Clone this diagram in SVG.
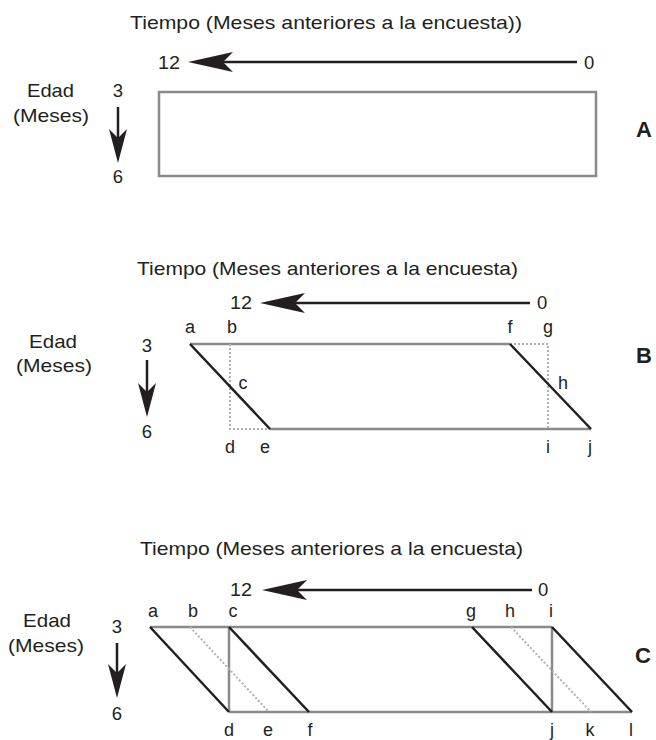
<svg xmlns="http://www.w3.org/2000/svg" width="656" height="740" viewBox="0 0 656 740">
  <style>
    text { font-family: "Liberation Sans", Arial, sans-serif; fill: #231f20; }
    .title { font-size: 19px; }
    .num { font-size: 18.5px; }
    .lbl { font-size: 18px; text-anchor: middle; }
    .axis { font-size: 18.5px; }
    .panel { font-size: 22px; font-weight: bold; }
    .arrow { stroke: #231f20; stroke-width: 2.5; fill: none; }
    .head { fill: #231f20; stroke: none; }
    .edge { stroke: #8a8a8a; stroke-width: 2.5; fill: none; }
    .cohort { stroke: #231f20; stroke-width: 2.5; fill: none; }
    .dot { stroke: #b0b0b0; stroke-width: 2; stroke-dasharray: 2 2; fill: none; }
  </style>
  <defs>
    <!-- arrowhead pointing left, tip at origin -->
    <path id="headL" class="head" d="M0,0 L45,-10 L35,0 L45,10 Z"/>
    <!-- arrowhead pointing down, tip at origin -->
    <path id="headD" class="head" d="M0,0 L-9,-34 L0,-25 L9,-34 Z"/>
  </defs>

  <!-- Panel A -->
  <g id="panelA">
    <text class="title" x="130" y="29" textLength="392" lengthAdjust="spacingAndGlyphs">Tiempo (Meses anteriores a la encuesta))</text>
    <text class="num" x="158" y="69" textLength="22" lengthAdjust="spacingAndGlyphs">12</text>
    <text class="num" x="584" y="69">0</text>
    <text class="axis" x="27" y="97" textLength="47" lengthAdjust="spacingAndGlyphs">Edad</text>
    <text class="axis" x="13" y="122" textLength="76" lengthAdjust="spacingAndGlyphs">(Meses)</text>
    <text class="axis" x="118" y="97" text-anchor="middle">3</text>
    <text class="axis" x="118" y="183" text-anchor="middle">6</text>
    <rect class="edge" x="159" y="92" width="437" height="84"/>
    <text class="panel" x="636" y="137">A</text>
  </g>

  <!-- Panel B -->
  <g id="panelB">
    <text class="title" x="137" y="275" textLength="381" lengthAdjust="spacingAndGlyphs">Tiempo (Meses anteriores a la encuesta)</text>
    <text class="num" x="230" y="309" textLength="22" lengthAdjust="spacingAndGlyphs">12</text>
    <text class="num" x="537" y="309">0</text>
    <text class="axis" x="29" y="348" textLength="48" lengthAdjust="spacingAndGlyphs">Edad</text>
    <text class="axis" x="16" y="372" textLength="76" lengthAdjust="spacingAndGlyphs">(Meses)</text>
    <text class="axis" x="147" y="352" text-anchor="middle">3</text>
    <text class="axis" x="147" y="438" text-anchor="middle">6</text>
    <line class="edge" x1="190" y1="344" x2="510" y2="344"/>
    <line class="edge" x1="270" y1="429" x2="591" y2="429"/>
    <polyline class="dot" points="230,344 230,429 270,429"/>
    <polyline class="dot" points="510,344 548,344 548,429"/>
    <line class="cohort" x1="190" y1="344" x2="270" y2="429"/>
    <line class="cohort" x1="510" y1="344" x2="591" y2="429"/>
    <text class="lbl" x="190" y="333">a</text>
    <text class="lbl" x="232" y="333">b</text>
    <text class="lbl" x="510" y="333">f</text>
    <text class="lbl" x="548" y="333">g</text>
    <text class="lbl" x="243" y="389">c</text>
    <text class="lbl" x="563" y="389">h</text>
    <text class="lbl" x="230" y="453">d</text>
    <text class="lbl" x="265" y="453">e</text>
    <text class="lbl" x="548" y="453">i</text>
    <text class="lbl" x="590" y="453">j</text>
    <text class="panel" x="636" y="363">B</text>
  </g>

  <!-- Panel C -->
  <g id="panelC">
    <text class="title" x="140" y="555" textLength="383" lengthAdjust="spacingAndGlyphs">Tiempo (Meses anteriores a la encuesta)</text>
    <text class="num" x="230" y="596" textLength="22" lengthAdjust="spacingAndGlyphs">12</text>
    <text class="num" x="538" y="596">0</text>
    <text class="axis" x="23" y="627" textLength="48" lengthAdjust="spacingAndGlyphs">Edad</text>
    <text class="axis" x="8" y="652" textLength="76" lengthAdjust="spacingAndGlyphs">(Meses)</text>
    <text class="axis" x="117" y="633" text-anchor="middle">3</text>
    <text class="axis" x="117" y="720" text-anchor="middle">6</text>
    <line class="edge" x1="150" y1="627" x2="552" y2="627"/>
    <line class="edge" x1="229" y1="712" x2="632" y2="712"/>
    <line class="edge" x1="229" y1="627" x2="229" y2="712"/>
    <line class="edge" x1="552" y1="627" x2="552" y2="712"/>
    <line class="dot" x1="190" y1="627" x2="269" y2="712"/>
    <line class="dot" x1="511" y1="627" x2="591" y2="712"/>
    <line class="cohort" x1="150" y1="627" x2="229" y2="712"/>
    <line class="cohort" x1="229" y1="627" x2="309" y2="712"/>
    <line class="cohort" x1="472" y1="627" x2="552" y2="712"/>
    <line class="cohort" x1="552" y1="627" x2="632" y2="712"/>
    <text class="lbl" x="153" y="617">a</text>
    <text class="lbl" x="193" y="617">b</text>
    <text class="lbl" x="233" y="617">c</text>
    <text class="lbl" x="471" y="617">g</text>
    <text class="lbl" x="510" y="617">h</text>
    <text class="lbl" x="551" y="617">i</text>
    <text class="lbl" x="229" y="736">d</text>
    <text class="lbl" x="268" y="736">e</text>
    <text class="lbl" x="310" y="736">f</text>
    <text class="lbl" x="552" y="736">j</text>
    <text class="lbl" x="590" y="736">k</text>
    <text class="lbl" x="631" y="736">l</text>
    <text class="panel" x="635" y="663">C</text>
  </g>

  <!-- Axis arrows -->
  <g id="connectors">
    <line class="arrow" x1="577" y1="62" x2="220" y2="62"/>
    <use href="#headL" x="188" y="62"/>
    <line class="arrow" x1="118" y1="107" x2="118" y2="140"/>
    <use href="#headD" x="118" y="163"/>

    <line class="arrow" x1="530" y1="303" x2="292" y2="303"/>
    <use href="#headL" x="260" y="303"/>
    <line class="arrow" x1="147" y1="360" x2="147" y2="394"/>
    <use href="#headD" x="147" y="417"/>

    <line class="arrow" x1="532" y1="590" x2="294" y2="590"/>
    <use href="#headL" x="262" y="590"/>
    <line class="arrow" x1="117" y1="643" x2="117" y2="675"/>
    <use href="#headD" x="117" y="698"/>
  </g>
</svg>
